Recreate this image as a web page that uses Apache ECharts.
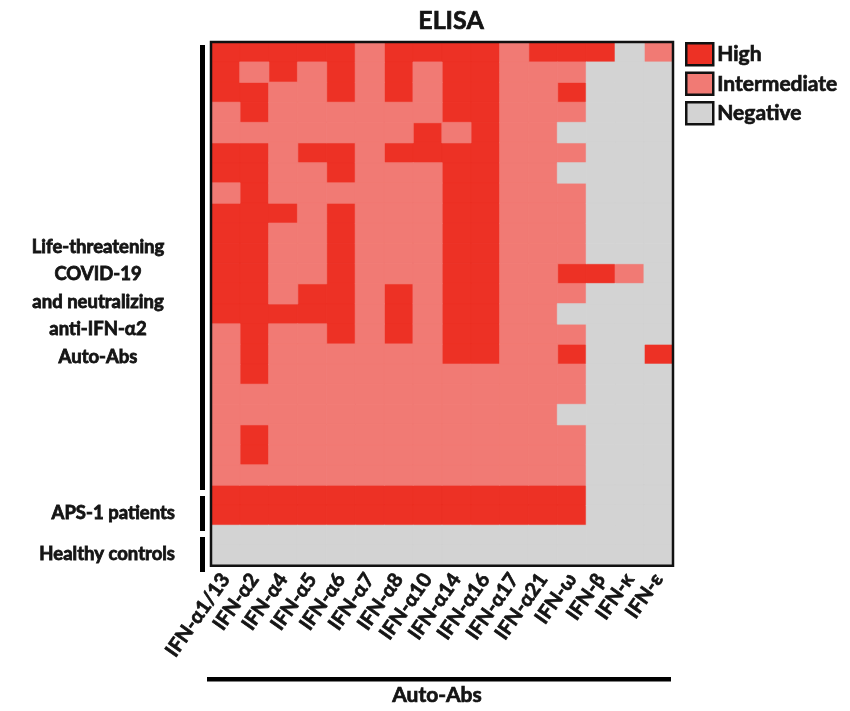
<!DOCTYPE html>
<html><head><meta charset="utf-8">
<script src="https://cdn.jsdelivr.net/npm/echarts@6/dist/echarts.min.js"></script>
<style>html,body{margin:0;padding:0;background:#fff}#c{width:850px;height:711px}</style>
</head><body><div id="c"></div>
<script>
// Columns (auto-antibody targets)
const antigens = ['IFN-α1/13','IFN-α2','IFN-α4','IFN-α5','IFN-α6','IFN-α7','IFN-α8','IFN-α10','IFN-α14','IFN-α16','IFN-α17','IFN-α21','IFN-ω','IFN-β','IFN-κ','IFN-ε'];
const levels = ['High','Intermediate','Negative'];
// Rows: H = High, I = Intermediate, N = Negative (one char per antigen)
const lifeThreatening = [
  'HHHHHIHHHHIHHHNI',
  'HIHIHIHIHHIIINNN',
  'HHIIHIHIHHIIHNNN',
  'IHIIIIIIHHIIINNN',
  'IIIIIIIHIHIINNNN',
  'HHIHHIHHHHIIINNN',
  'HHIIHIIIHHIINNNN',
  'IHIIIIIIHHIIINNN',
  'HHHIHIIIHHIIINNN',
  'HHIIHIIIHHIIINNN',
  'HHIIHIIIHHIIINNN',
  'HHIIHIIIHHIIHHIN',
  'HHIHHIHIHHIIINNN',
  'HHHHHIHIHHIINNNN',
  'IHIIHIHIHHIIINNN',
  'IHIIIIIIHHIIHNNH',
  'IHIIIIIIIIIIINNN',
  'IIIIIIIIIIIIINNN',
  'IIIIIIIIIIIINNNN',
  'IHIIIIIIIIIIINNN',
  'IHIIIIIIIIIIINNN',
  'IIIIIIIIIIIIINNN'
];
const aps1 = [
  'HHHHHHHHHHHHHNNN',
  'HHHHHHHHHHHHHNNN'
];
const healthyControls = [
  'NNNNNNNNNNNNNNNN',
  'NNNNNNNNNNNNNNNN'
];
const colors = {High:'#ED3125', Intermediate:'#F17A74', Negative:'#D3D3D3'};

const allRows = lifeThreatening.concat(aps1, healthyControls);
const rowNames = allRows.map((r,i)=>'R'+(i+1));
const codeMap = {H:'High', I:'Intermediate', N:'Negative'};
const seriesData = {High:[], Intermediate:[], Negative:[]};
allRows.forEach((row,ri)=>{
  row.split('').forEach((ch,ci)=>{
    seriesData[codeMap[ch]].push([ci, ri, 1]);
  });
});

const FONT = 'Lato, "Open Sans", sans-serif';
const INK = '#141414';
const heavy = {textBorderColor:INK, textBorderWidth:0.7};
const chart = echarts.init(document.getElementById('c'), null, {renderer:'canvas'});
const gridTop = 42, gridBottom = 575, gridLeft = 211;
const rowH = (gridBottom - gridTop) / allRows.length;
const yOf = i => gridTop + rowH * i;

const lifeLines = ['Life-threatening','COVID-19','and neutralizing','anti-IFN-α2','Auto-Abs'];
const graphics = [];
// group brackets
const bars = [
  [0, lifeThreatening.length],
  [lifeThreatening.length, lifeThreatening.length + aps1.length],
  [lifeThreatening.length + aps1.length, allRows.length]
];
bars.forEach(([a,b])=>{
  graphics.push({type:'rect', shape:{x:200, y:yOf(a)+3, width:5, height:yOf(b)-yOf(a)-6}, style:{fill:'#000'}});
});
const labelStyle = (t, align)=>({text:t, fill:INK, font:'bold 18.5px '+FONT, textAlign:align, textVerticalAlign:'middle', stroke:INK, lineWidth:0.8});
lifeLines.forEach((t,i)=>{
  graphics.push({type:'text', x:98, y:247+i*27.5, style:labelStyle(t,'center')});
});
graphics.push({type:'text', x:175, y:(yOf(22)+yOf(24))/2, style:labelStyle('APS-1 patients','right')});
graphics.push({type:'text', x:175, y:(yOf(24)+yOf(26))/2, style:labelStyle('Healthy controls','right')});
graphics.push({type:'rect', shape:{x:207, y:677, width:464, height:4.5}, style:{fill:'#000'}});

chart.setOption({
  animation:false,
  backgroundColor:'#fff',
  textStyle:{fontFamily:FONT},
  title:{text:'ELISA', left:446, top:3, textAlign:'center', textStyle:Object.assign({fontSize:25, fontWeight:'bold', color:INK, fontFamily:FONT}, heavy)},
  legend:{
    orient:'vertical', left:685, top:42, padding:0, icon:'rect', itemWidth:27, itemHeight:22, itemGap:5,
    textStyle:Object.assign({fontSize:21, fontWeight:'bold', color:INK, fontFamily:FONT, padding:[0,0,0,-1]}, heavy),
    data: levels.map(l=>({name:l, itemStyle:{color:colors[l], borderColor:'#111', borderWidth:2.5}}))
  },
  grid:{left:gridLeft, right:177, top:gridTop, bottom:711-gridBottom, show:true, borderColor:'#111', borderWidth:2.5, backgroundColor:'transparent', z:10},
  xAxis:{
    type:'category', data:antigens, position:'bottom',
    axisLine:{show:false}, axisTick:{show:false}, splitLine:{show:false},
    axisLabel:Object.assign({interval:0, rotate:55, fontSize:20, fontWeight:'bold', color:INK, margin:10, fontFamily:FONT}, heavy),
    name:'Auto-Abs', nameLocation:'middle', nameGap:119,
    nameTextStyle:Object.assign({fontSize:21, fontWeight:'bold', color:INK, fontFamily:FONT, padding:[0,10,0,0]}, heavy)
  },
  yAxis:{
    type:'category', data:rowNames, inverse:true,
    axisLine:{show:false}, axisTick:{show:false}, axisLabel:{show:false}, splitLine:{show:false}
  },
  series: levels.map(l=>({
    name:l, type:'heatmap', data:seriesData[l],
    itemStyle:{color:colors[l], borderColor:colors[l], borderWidth:0.6},
    emphasis:{disabled:true}
  })),
  graphic: graphics
});
</script></body></html>
